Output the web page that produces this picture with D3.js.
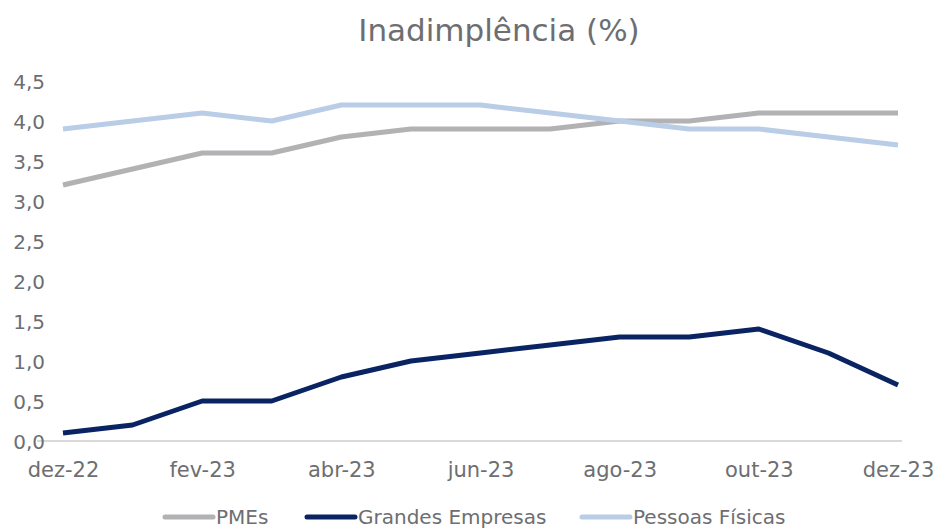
<!DOCTYPE html>
<html>
<head>
<meta charset="utf-8">
<script src="https://cdn.jsdelivr.net/npm/d3@7"></script>
<style>
  body { margin: 0; background: #fff; }
  text { font-family: "DejaVu Sans", sans-serif; fill: #6d6e71; }
</style>
</head>
<body>
<div id="chart"></div>
<script>
var months = ['dez-22', 'jan-23', 'fev-23', 'mar-23', 'abr-23', 'mai-23', 'jun-23',
    'jul-23', 'ago-23', 'set-23', 'out-23', 'nov-23', 'dez-23'];
var pmes = [3.2, 3.4, 3.6, 3.6, 3.8, 3.9, 3.9, 3.9, 4.0, 4.0, 4.1, 4.1, 4.1];
var grandes = [0.1, 0.2, 0.5, 0.5, 0.8, 1.0, 1.1, 1.2, 1.3, 1.3, 1.4, 1.1, 0.7];
var pessoas = [3.9, 4.0, 4.1, 4.0, 4.2, 4.2, 4.2, 4.1, 4.0, 3.9, 3.9, 3.8, 3.7];
var yTicks = [0, 0.5, 1, 1.5, 2, 2.5, 3, 3.5, 4, 4.5];

var series = [
    { name: 'PMEs', values: pmes, color: '#b2b2b5' },
    { name: 'Grandes Empresas', values: grandes, color: '#0a2463' },
    { name: 'Pessoas Físicas', values: pessoas, color: '#b9cde6' }
];

var width = 933, height = 528;
var svg = d3.select('#chart').append('svg')
    .attr('width', width)
    .attr('height', height);

var x = d3.scalePoint().domain(months).range([63, 898]);
var y = d3.scaleLinear().domain([0, 4.5]).range([441, 81]);

// title
svg.append('text')
    .attr('x', 499)
    .attr('y', 41)
    .attr('text-anchor', 'middle')
    .style('font-size', '31px')
    .text('Inadimplência (%)');

// baseline
svg.append('line')
    .style('stroke', '#d9d9d9')
    .style('stroke-width', '2px')
    .attr('x1', 37)
    .attr('y1', y(0))
    .attr('x2', 902)
    .attr('y2', y(0));

// y axis
var yAxis = d3.axisLeft(y)
    .tickValues(yTicks)
    .tickSize(0)
    .tickPadding(0)
    .tickFormat(function (d) { return d3.format('.1f')(d).replace('.', ','); });
var gy = svg.append('g').attr('transform', 'translate(45,0)').call(yAxis);
gy.select('.domain').remove();
gy.selectAll('text').style('font-size', '20px').attr('dy', '0.35em');

// x axis
var xAxis = d3.axisBottom(x)
    .tickValues(months.filter(function (d, i) { return i % 2 == 0; }))
    .tickSize(0)
    .tickPadding(0);
var gx = svg.append('g').attr('transform', 'translate(0,' + 470 + ')').call(xAxis);
gx.select('.domain').remove();
gx.selectAll('text').style('font-size', '21px').attr('dy', '0.35em');

// lines
var line = d3.line()
    .x(function (d, i) { return x(months[i]); })
    .y(function (d) { return y(d); });

series.forEach(function (s) {
    svg.append('path')
        .datum(s.values)
        .attr('d', line)
        .style('fill', 'none')
        .style('stroke', s.color)
        .style('stroke-width', '5px')
        .style('stroke-linejoin', 'round');
});

// legend
var legendPos = [165, 307, 582];
series.forEach(function (s, i) {
    var g = svg.append('g').attr('transform', 'translate(' + legendPos[i] + ',517)');
    g.append('line')
        .attr('x1', 0).attr('x2', 48)
        .style('stroke', s.color)
        .style('stroke-width', '5px')
        .style('stroke-linecap', 'round');
    g.append('text')
        .attr('x', 51)
        .attr('dy', '0.35em')
        .style('font-size', '20px')
        .text(s.name);
});
</script>
</body>
</html>
